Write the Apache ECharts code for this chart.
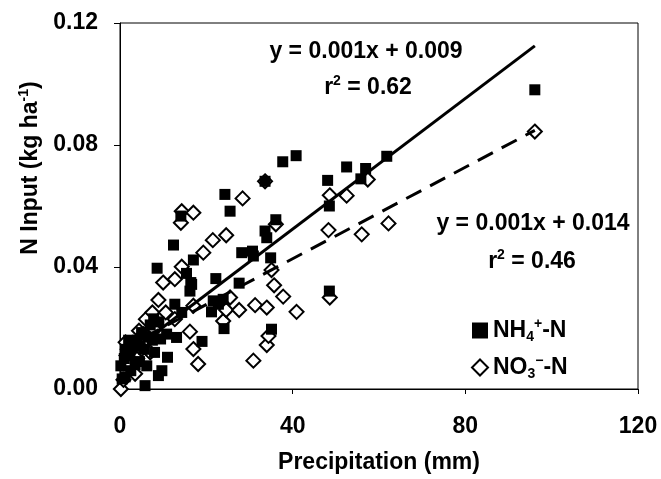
<!DOCTYPE html>
<html>
<head>
<meta charset="utf-8">
<script src="https://cdn.jsdelivr.net/npm/echarts@6/dist/echarts.min.js"></script>
<style>html,body{margin:0;padding:0;background:#fff}#c{width:661px;height:479px}</style>
</head>
<body>
<div id="c"></div>
<script>
// Precipitation (mm) and N input (kg/ha) for NH4+-N
const nh4Precip = [0.2,0.5,1.0,1.2,1.5,2.0,2.3,2.5,3.2,3.5,4.0,4.5,5.0,5.5,5.8,6.2,6.5,7.0,7.5,7.8,8.0,8.6,8.9,9.0,9.4,9.7,10.8,11.0,12.4,12.7,13.1,14.1,14.3,15.4,16.2,16.4,16.6,17.0,19.0,21.2,21.6,22.2,22.8,23.9,24.1,24.3,25.5,27.6,28.2,30.7,30.9,33.6,33.6,34.0,34.9,35.1,36.1,37.7,40.8,48.1,48.5,48.5,52.5,55.8,56.9,61.8,96.1];
const nh4Input  = [0.0076,0.0033,0.0100,0.0040,0.0130,0.0160,0.0109,0.0060,0.0140,0.0080,0.0160,0.0090,0.0185,0.0130,0.0011,0.0076,0.0170,0.0210,0.0160,0.0230,0.0120,0.0396,0.0044,0.0220,0.0164,0.0060,0.0180,0.0104,0.0472,0.0278,0.0169,0.0567,0.0251,0.0379,0.0321,0.0349,0.0343,0.0423,0.0156,0.0253,0.0289,0.0362,0.0278,0.0294,0.0198,0.0638,0.0583,0.0347,0.0447,0.0452,0.0436,0.0681,0.0518,0.0496,0.0430,0.0196,0.0555,0.0745,0.0765,0.0684,0.0600,0.0321,0.0728,0.0689,0.0723,0.0763,0.0981];
// NO3--N
const no3Precip = [0.2,0.8,1.3,1.5,2.0,2.8,3.0,3.5,4.0,4.4,5.0,5.5,6.0,6.5,7.0,7.5,8.0,8.9,10.0,10.6,12.7,12.7,14.1,14.3,14.3,16.2,17.0,17.0,17.0,18.1,19.3,21.5,23.9,24.6,24.6,25.5,27.6,28.4,30.9,31.3,33.6,34.0,34.0,34.4,35.1,35.7,36.1,37.8,40.9,48.3,48.6,48.6,52.5,56.0,57.4,62.2,96.1];
const no3Input  = [0.0000,0.0030,0.0153,0.0110,0.0080,0.0140,0.0110,0.0050,0.0100,0.0191,0.0130,0.0180,0.0229,0.0160,0.0120,0.0251,0.0195,0.0292,0.0349,0.0251,0.0229,0.0360,0.0545,0.0583,0.0401,0.0188,0.0578,0.0273,0.0131,0.0082,0.0447,0.0488,0.0223,0.0504,0.0259,0.0300,0.0259,0.0625,0.0093,0.0275,0.0681,0.0267,0.0144,0.0174,0.0390,0.0340,0.0540,0.0303,0.0253,0.0521,0.0635,0.0300,0.0634,0.0507,0.0687,0.0543,0.0844];
// Trend lines (endpoints)
const trendX   = [0, 96.1];
const nh4Trend = [0.0096, 0.1125];
const no3Trend = [0.0127, 0.0848];
const xTicks = [0, 40, 80, 120];
const yTicks = [0.00, 0.04, 0.08, 0.12];

const FONT = 'Liberation Sans, Arial, sans-serif';
const NARROW = '"Liberation Sans Narrow", "Arial Narrow", "Liberation Sans", sans-serif';
const zip = (a, b) => a.map((v, i) => [v, b[i]]);
const supRich = (size, fam) => ({
  b:   { fontFamily: fam, fontWeight: 'bold', fontSize: size, fill: '#000', color: '#000', lineHeight: size + 4 },
  sub: { fontFamily: fam, fontWeight: 'bold', fontSize: Math.round(size * 0.62), fill: '#000', color: '#000', lineHeight: 14, verticalAlign: 'bottom' },
  sup: { fontFamily: fam, fontWeight: 'bold', fontSize: Math.round(size * 0.62), fill: '#000', color: '#000', lineHeight: 14, verticalAlign: 'top' }
});

const chart = echarts.init(document.getElementById('c'));
chart.setOption({
  animation: false,
  backgroundColor: '#fff',
  grid: { left: 120, right: 23, top: 23, bottom: 89, show: true, borderColor: '#000', borderWidth: 1 },
  xAxis: {
    type: 'value', min: xTicks[0], max: xTicks[xTicks.length-1], interval: 40,
    name: 'Precipitation (mm)', nameLocation: 'middle', nameGap: 62,
    nameTextStyle: { fontFamily: FONT, fontWeight: 'bold', fontSize: 23, color: '#000' },
    axisLine: { lineStyle: { color: '#000', width: 1 } },
    axisTick: { show: true, inside: false, length: 5, lineStyle: { color: '#000' } },
    axisLabel: { fontFamily: FONT, fontWeight: 'bold', fontSize: 23, color: '#000', margin: 26 },
    splitLine: { show: false }
  },
  yAxis: {
    type: 'value', min: yTicks[0], max: yTicks[yTicks.length-1], interval: 0.04,
    axisLine: { show: true, lineStyle: { color: '#000', width: 1 } },
    axisTick: { show: true, inside: false, length: 6, lineStyle: { color: '#000' } },
    axisLabel: { fontFamily: FONT, fontWeight: 'bold', fontSize: 23, color: '#000', margin: 22,
      formatter: v => v.toFixed(2) },
    splitLine: { show: false }
  },
  legend: {
    orient: 'vertical', left: 466, top: 312, itemGap: 10, itemWidth: 16, itemHeight: 16,
    data: ['NH4', 'NO3'],
    formatter: n => n === 'NH4' ? '{b|NH}{sub|4}{sup|+}{b|-N}' : '{b|NO}{sub|3}{sup|\u2212}{b|-N}',
    textStyle: { color: '#000', rich: supRich(23, FONT) }
  },
  graphic: [
    { type: 'text', x: 31, y: 168, rotation: Math.PI / 2,
      style: { text: '{b|N Input (kg ha}{sup|-1}{b|)}', textAlign: 'center', textVerticalAlign: 'middle',
        rich: supRich(23, NARROW) } },
    { type: 'text', x: 366, y: 52,
      style: { text: 'y = 0.001x + 0.009', fontFamily: FONT, fontWeight: 'bold', fontSize: 23, fill: '#000', textAlign: 'center', textVerticalAlign: 'middle' } },
    { type: 'text', x: 368, y: 88,
      style: { text: '{b|r}{sup|2}{b| = 0.62}', textAlign: 'center', textVerticalAlign: 'middle', rich: supRich(23, FONT) } },
    { type: 'text', x: 533, y: 224,
      style: { text: 'y = 0.001x + 0.014', fontFamily: FONT, fontWeight: 'bold', fontSize: 23, fill: '#000', textAlign: 'center', textVerticalAlign: 'middle' } },
    { type: 'text', x: 532, y: 262,
      style: { text: '{b|r}{sup|2}{b| = 0.46}', textAlign: 'center', textVerticalAlign: 'middle', rich: supRich(23, FONT) } }
  ],
  series: [
    { name: 'NO3', type: 'scatter', symbol: 'diamond', symbolSize: 14,
      itemStyle: { color: '#fff', borderColor: '#000', borderWidth: 2, opacity: 1 },
      data: zip(no3Precip, no3Input), z: 2 },
    { name: 'NH4', type: 'scatter', symbol: 'rect', symbolSize: 11,
      itemStyle: { color: '#000', opacity: 1 },
      data: zip(nh4Precip, nh4Input), z: 3 },
    { name: 'NH4 trend', type: 'line', symbol: 'none', silent: true,
      lineStyle: { color: '#000', width: 3, type: 'solid' },
      data: zip(trendX, nh4Trend), z: 4 },
    { name: 'NO3 trend', type: 'line', symbol: 'none', silent: true,
      lineStyle: { color: '#000', width: 3, type: [17, 10] },
      data: zip(trendX, no3Trend), z: 4 }
  ]
});
</script>
</body>
</html>
